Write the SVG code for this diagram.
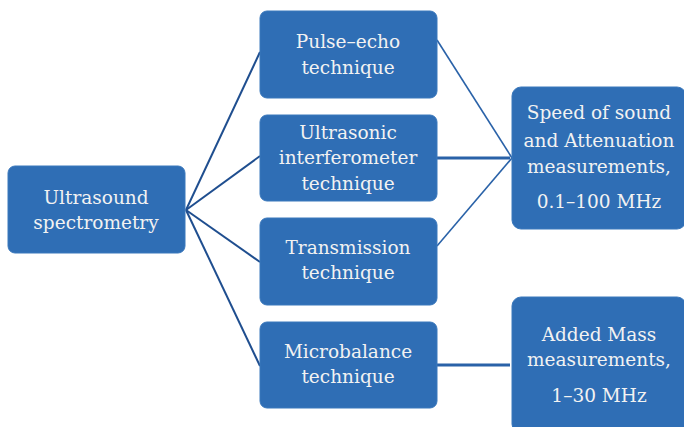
<svg xmlns="http://www.w3.org/2000/svg" width="684" height="427" viewBox="0 0 684 427">
<style>
.box{fill:#2F6EB5;stroke:#3A78BC;stroke-width:1}
.t{font-family:"DejaVu Serif","Liberation Serif",serif;font-size:18.5px;fill:#F2F2F2;text-anchor:middle}
.c{stroke:#1F4E8F;stroke-width:2;fill:none}
.c2{stroke:#2A62A8;stroke-width:1.6;fill:none}
.c3{stroke:#2A62A8;stroke-width:3;fill:none}
</style>
<rect width="684" height="427" fill="#fff"/>
<g id="connectors">
<line class="c" x1="186" y1="210" x2="260" y2="52"/>
<line class="c" x1="186" y1="210" x2="260" y2="156"/>
<line class="c" x1="186" y1="210" x2="260" y2="262"/>
<line class="c" x1="186" y1="210" x2="260" y2="366"/>
<line class="c2" x1="437" y1="40" x2="512" y2="158"/>
<line class="c3" x1="437" y1="158" x2="510" y2="158"/>
<line class="c2" x1="437" y1="246" x2="512" y2="158"/>
<line class="c3" x1="437" y1="365" x2="510" y2="365"/>
</g>
<g id="root">
<rect class="box" x="8" y="166" width="177" height="87" rx="7"/>
<text class="t" x="96" y="204">Ultrasound</text>
<text class="t" x="96" y="229">spectrometry</text>
</g>
<g id="pulse-echo">
<rect class="box" x="260" y="11" width="177" height="87" rx="7"/>
<text class="t" x="348" y="48">Pulse–echo</text>
<text class="t" x="348" y="74">technique</text>
</g>
<g id="interferometer">
<rect class="box" x="260" y="115" width="177" height="86" rx="7"/>
<text class="t" x="348" y="139">Ultrasonic</text>
<text class="t" x="348" y="164">interferometer</text>
<text class="t" x="348" y="190">technique</text>
</g>
<g id="transmission">
<rect class="box" x="260" y="218" width="177" height="87" rx="7"/>
<text class="t" x="348" y="254">Transmission</text>
<text class="t" x="348" y="279">technique</text>
</g>
<g id="microbalance">
<rect class="box" x="260" y="322" width="177" height="86" rx="7"/>
<text class="t" x="348" y="358">Microbalance</text>
<text class="t" x="348" y="383">technique</text>
</g>
<g id="speed">
<rect class="box" x="512" y="87" width="174" height="142" rx="9"/>
<text class="t" x="599" y="119">Speed of sound</text>
<text class="t" x="599" y="147">and Attenuation</text>
<text class="t" x="599" y="173">measurements,</text>
<text class="t" x="599" y="208">0.1–100 MHz</text>
</g>
<g id="added-mass">
<rect class="box" x="512" y="297" width="174" height="136" rx="9"/>
<text class="t" x="599" y="341">Added Mass</text>
<text class="t" x="599" y="366">measurements,</text>
<text class="t" x="599" y="402">1–30 MHz</text>
</g>
</svg>
